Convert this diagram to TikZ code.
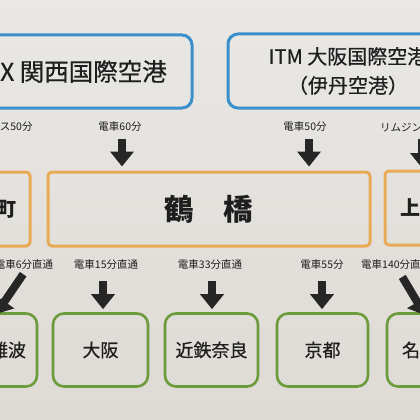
\documentclass[tikz,border=0pt]{standalone}
\usepackage{fontspec}
\setmainfont{Noto Sans CJK JP}
\newfontfamily\jpmed[FakeBold=0.5]{Noto Sans CJK JP}
\usetikzlibrary{arrows.meta}
\definecolor{bgtop}{HTML}{E9E8E5}
\definecolor{bgbot}{HTML}{DEDAD5}
\definecolor{cblue}{HTML}{3B8FCB}
\definecolor{corange}{HTML}{E9AA55}
\definecolor{cgreen}{HTML}{6B9B3A}
\definecolor{ink}{HTML}{1E1E1E}
\definecolor{arrowc}{HTML}{262626}
\tikzset{
  bluebox/.style={draw=cblue, line width=3pt, rounded corners=10pt, inner sep=0pt, text=ink},
  obox/.style={draw=corange, line width=3pt, rounded corners=4pt, inner sep=0pt, text=ink, minimum height=74pt},
  gbox/.style={draw=cgreen, line width=2.6pt, rounded corners=11pt, inner sep=0pt, text=ink, minimum height=73pt, font=\jpmed\fontsize{18}{20}\selectfont},
  lbl/.style={inner sep=0pt, text=ink, font=\fontsize{10.5}{12}\selectfont},
  blk/.style={draw=arrowc, line width=8pt, -{Triangle[width=23pt,length=15pt]}},
}
\begin{document}
\begin{tikzpicture}[x=1pt,y=-1pt]
\useasboundingbox (0,0) rectangle (420,420);
\shade[top color=bgtop, bottom color=bgbot] (0,0) rectangle (420,420);
\clip (0,0) rectangle (420,420);

% airports
\node[bluebox, minimum width=240pt, minimum height=73pt, font=\jpmed\fontsize{24.5}{28}\selectfont] (kix) at (72,71.5) {KIX 関西国際空港};
\node[bluebox, minimum width=240pt, minimum height=74pt, align=center, font=\jpmed\fontsize{20}{29}\selectfont] (itm) at (348,71) {ITM 大阪国際空港\\（伊丹空港）};

% labels row 1
\node[lbl] (lb1) at (-10,127) {リムジンバス50分};
\node[lbl] (l60) at (120,127) {電車60分};
\node[lbl] (l50) at (305,127) {電車50分};
\node[lbl, anchor=west] (lb2) at (380,127) {リムジンバス};

% middle stations
\node[obox, minimum width=86pt, font=\fontsize{20}{22}\selectfont\bfseries] (uhl) at (-13,209) {上本町};
\node[obox, minimum width=322pt, font=\fontsize{29.5}{32}\selectfont\bfseries] (tsu) at (209,209) {鶴　橋};
\node[obox, minimum width=90pt, font=\fontsize{20}{22}\selectfont\bfseries] (uhr) at (430,208) {上本町};

% labels row 2
\node[lbl] (l6) at (24,265) {電車6分直通};
\node[lbl] (l15) at (106,265) {電車15分直通};
\node[lbl] (l33) at (210,265) {電車33分直通};
\node[lbl] (l55) at (322,265) {電車55分};
\node[lbl, anchor=west] (l140) at (361,265) {電車140分直通};

% destinations
\node[gbox, minimum width=58pt] (nmb) at (8,350) {難波};
\node[gbox, minimum width=95pt] (osk) at (100.5,350) {大阪};
\node[gbox, minimum width=93pt] (nara) at (211.5,350) {近鉄奈良};
\node[gbox, minimum width=91pt] (kyo) at (322.5,350) {京都};
\node[gbox, minimum width=84pt] (ngy) at (429,350) {名古屋};

% arrows row 1
\draw[blk, shorten <=7pt, shorten >=4pt] ([xshift=2pt]l60.south) -- ([xshift=2pt]l60.south |- tsu.north);
\draw[blk, shorten <=7pt, shorten >=4pt] ([xshift=4pt]l50.south) -- ([xshift=4pt]l50.south |- tsu.north);
\coordinate (tr1) at (422,168);
\draw[blk, shorten <=7pt] (lb2.south -| tr1) -- (tr1);

% arrows row 2
\coordinate (tipL) at (-4,314);
\coordinate (tipR) at (425,315);
\draw[blk, shorten <=5pt] ([xshift=2pt]l6.south) -- (tipL);
\draw[blk, shorten <=11pt, shorten >=3pt] ([xshift=-3pt]l15.south) -- ([xshift=-3pt]l15.south |- osk.north);
\draw[blk, shorten <=11pt, shorten >=3pt] ([xshift=2pt]l33.south) -- ([xshift=2pt]l33.south |- nara.north);
\draw[blk, shorten <=11pt, shorten >=3pt] (l55.south) -- (l55.south |- kyo.north);
\draw[blk, shorten <=8pt] ([xshift=2pt]l140.south) -- (tipR);
\end{tikzpicture}
\end{document}
